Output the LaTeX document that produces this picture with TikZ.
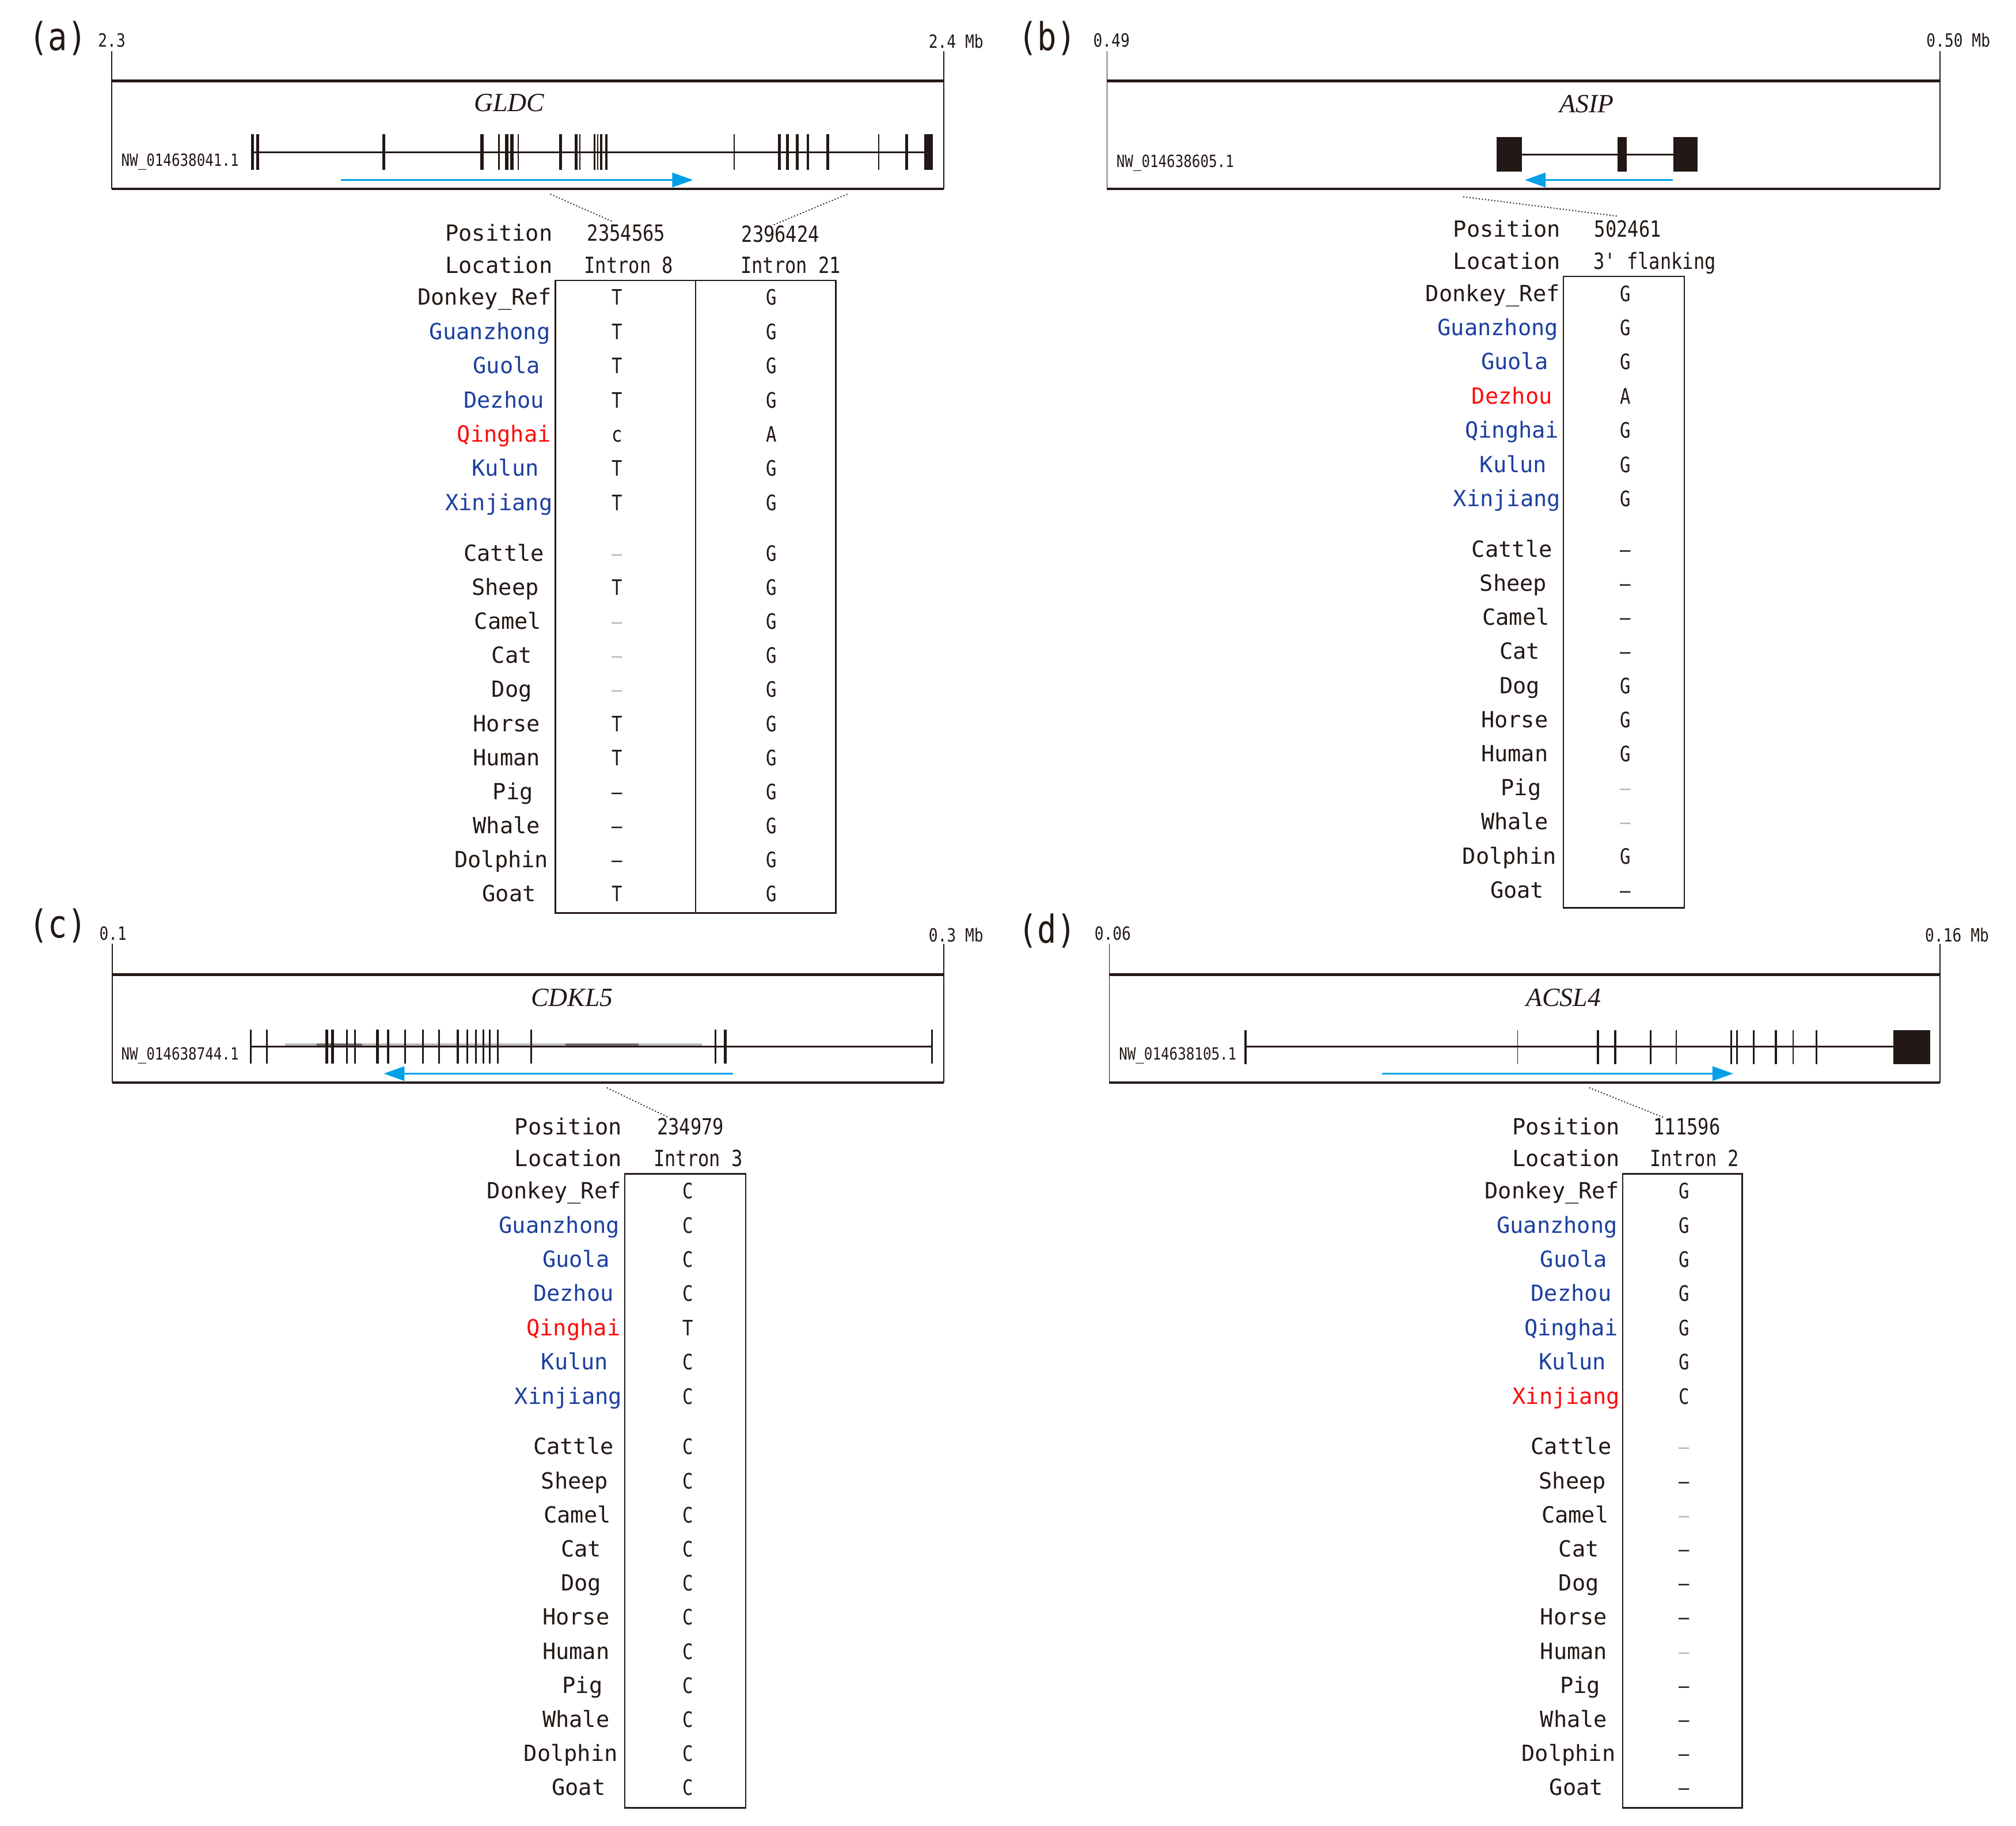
\documentclass[tikz,border=0pt]{standalone}
\usepackage{fontspec}
\setmainfont{DejaVu Sans Mono}
\newfontfamily\narrowfont[FakeStretch=0.83]{DejaVu Sans Mono}
\newfontfamily\genefont{Liberation Serif}
\usetikzlibrary{calc}
\usetikzlibrary{arrows.meta}
\definecolor{ink}{HTML}{231815}
\definecolor{breedblue}{HTML}{1C3F9F}
\definecolor{snpred}{HTML}{FF0A0A}
\definecolor{strandblue}{HTML}{00A0E9}
\tikzset{
  panel/.style={font=\narrowfont\fontsize{19}{22}\selectfont, text=ink, inner sep=0pt},
  tick/.style={font=\narrowfont\fontsize{9}{10}\selectfont, text=ink, inner sep=0pt, anchor=mid west},
  acc/.style={font=\narrowfont\fontsize{8.3}{9}\selectfont, text=ink, inner sep=0pt, anchor=mid west},
  gene/.style={font=\genefont\itshape\fontsize{13}{15}\selectfont, text=ink, inner sep=0pt},
  breed/.style={font=\fontsize{11}{13}\selectfont, inner sep=0pt, anchor=mid},
  head/.style={font=\fontsize{11}{13}\selectfont, text=ink, inner sep=0pt, anchor=mid east},
  posn/.style={font=\narrowfont\fontsize{11}{13}\selectfont, text=ink, inner sep=0pt, anchor=mid},
  base/.style={font=\narrowfont\fontsize{10.5}{12}\selectfont, text=ink, inner sep=0pt, anchor=mid},
  frameline/.style={draw=ink, line width=0.5pt},
  topline/.style={draw=ink, line width=1.4pt},
  boxfoot/.style={draw=ink, line width=1pt},
  intron/.style={draw=ink, line width=0.8pt},
  cell/.style={draw=ink, line width=0.7pt},
  snpline/.style={draw=ink, line width=0.55pt, densely dotted},
  strand/.style={draw=strandblue, line width=0.9pt, -{Triangle[length=3.6mm,width=2.5mm]}}
}
\newcommand{\dsh}{\textendash}
\newcommand{\gdsh}{{\color{gray!55}\textendash}}
% row height: seven donkey breeds, a gap, eleven other species
\newcommand{\rowy}[2]{\ifnum#1<8 \pgfmathsetmacro\ry{#2+15+26.6*(#1-1)}\else\pgfmathsetmacro\ry{#2+214+26.5*(#1-8)}\fi}
% #1 box left, #2 box top, #3 red row, #4 name prefix
\newcommand{\breedrows}[4]{%
  \foreach \nm/\dx [count=\i] in {Donkey\_Ref/-55,Guanzhong/-51,Guola/-38,Dezhou/-40,Qinghai/-40,Kulun/-39,Xinjiang/-44,Cattle/-40,Sheep/-39,Camel/-37,Cat/-34,Dog/-34,Horse/-38,Human/-38,Pig/-33,Whale/-38,Dolphin/-42,Goat/-36}{
    \rowy{\i}{#2}
    \def\cl{ink}
    \ifnum\i>1 \ifnum\i<8 \def\cl{breedblue}\fi\fi
    \ifnum\i=#3 \def\cl{snpred}\fi
    \node[breed, text=\cl] (#4\i) at (#1+\dx,\ry) {\nm};
  }}
% #1 x, #2 box top, #3 name prefix, #4 bases
\newcommand{\snpvalues}[4]{%
  \foreach \v [count=\i] in {#4}{\rowy{\i}{#2}\node[base] (#3\i) at (#1,\ry) {\v};}}

\begin{document}
\begin{tikzpicture}[x=0.22328mm, y=-0.22328mm]
\useasboundingbox (0,0) rectangle (1568,1420);

% ---------- (a) GLDC ----------
\node[panel] (a-tag) at (45,30) {(a)};
\node[tick] (a-from) at (76,32) {2.3};
\node[tick] (a-to) at (722,33) {2.4 Mb};
\draw[frameline] (87,40) -- (87,147);
\draw[frameline] (734,40) -- (734,147);
\draw[topline] (87,63) -- (734,63);
\draw[boxfoot] (87,147) -- (734,147);
\node[gene] (a-gene) at (396,80) {GLDC};
\node[acc] (a-acc) at (94,125) {NW\_014638041.1};
\draw[intron] (196.5,118.4) -- (722,118.4);
% exons
\foreach \x/\w in {196.5/1.4pt,200.5/1.4pt,298.5/1.4pt,375/1.7pt,388/0.9pt,394/1.7pt,398/1.7pt,403/0.6pt,436/1.7pt,448/1.5pt,451/0.6pt,462.5/0.7pt,465/0.7pt,467.5/1.2pt,471.5/1.2pt,571/0.5pt,606/1.4pt,612.5/1.4pt,620/1.4pt,628.5/1.1pt,644/1.4pt,683.5/0.5pt,705/1.4pt}
  \draw[ink, line width=\w] (\x,104.5) -- (\x,132);
\fill[ink] (719,104.5) rectangle (725.5,132);
\draw[strand] (265,140) -- (539,140);
% table
\node[head] (a-poslab) at (430,183) {Position};
\node[head] (a-loclab) at (430,208) {Location};
\node[posn] (a-pos1) at (487,183) {2354565};
\node[posn] (a-pos2) at (607,184) {2396424};
\node[posn] (a-loc1) at (489,208) {Intron 8};
\node[posn] (a-loc2) at (615,208) {Intron 21};
\coordinate (a-cut1) at (428,151);
\coordinate (a-cut2) at (659,151);
\draw[snpline] (a-cut1) -- ($(a-pos1.north)+(-11,-2)$);
\draw[snpline] (a-cut2) -- ($(a-pos2.north)+(-6,0)$);
\draw[cell] (432,218) rectangle (650,710);
\draw[cell] (541,218) -- (541,710);
\breedrows{432}{218}{5}{a-lab}
\snpvalues{480}{218}{a-s}{T,T,T,T,c,T,T,\gdsh,T,\gdsh,\gdsh,\gdsh,T,T,\dsh,\dsh,\dsh,T}
\snpvalues{600}{218}{a-t}{G,G,G,G,A,G,G,G,G,G,G,G,G,G,G,G,G,G}

% ---------- (b) ASIP ----------
\node[panel] (b-tag) at (814.5,30) {(b)};
\node[tick] (b-from) at (850,32) {0.49};
\node[tick] (b-to) at (1498,32) {0.50 Mb};
\draw[frameline] (861,40) -- (861,147);
\draw[frameline] (1509,40) -- (1509,147);
\draw[topline] (861,63) -- (1509,63);
\draw[boxfoot] (861,147) -- (1509,147);
\node[gene] (b-gene) at (1234,81) {ASIP};
\node[acc] (b-acc) at (868,126) {NW\_014638605.1};
\draw[intron] (1183.8,120.2) -- (1301.3,120.2);
% exons
\fill[ink] (1163.8,106.7) rectangle (1183.8,133.3);
\fill[ink] (1258,106.7) rectangle (1265,133.3);
\fill[ink] (1301.3,106.7) rectangle (1320.3,133.3);
\draw[strand] (1301,140) -- (1186,140);
% table
\node[head] (b-poslab) at (1214,180) {Position};
\node[head] (b-loclab) at (1214,205) {Location};
\node[posn] (b-pos1) at (1266,180) {502461};
\node[posn] (b-loc1) at (1287,205) {3' flanking};
\coordinate (b-cut1) at (1138,153);
\draw[snpline] (b-cut1) -- ($(b-pos1.north)+(-8,-3)$);
\draw[cell] (1216,215) rectangle (1310,706);
\breedrows{1216}{215}{4}{b-lab}
\snpvalues{1264}{215}{b-s}{G,G,G,A,G,G,G,\dsh,\dsh,\dsh,\dsh,G,G,G,\gdsh,\gdsh,G,\dsh}

% ---------- (c) CDKL5 ----------
\node[panel] (c-tag) at (45,720) {(c)};
\node[tick] (c-from) at (77,727) {0.1};
\node[tick] (c-to) at (722,728) {0.3 Mb};
\draw[frameline] (87.5,734) -- (87.5,842);
\draw[frameline] (734,734) -- (734,842);
\draw[topline] (87.5,758) -- (734,758);
\draw[boxfoot] (87.5,842) -- (734,842);
\node[gene] (c-gene) at (445,776) {CDKL5};
\node[acc] (c-acc) at (94,820) {NW\_014638744.1};
\draw[gray!55, line width=1.3pt] (221.5,812.6) -- (546,812.6);
\draw[gray!85!black, line width=1.3pt] (246.5,812.6) -- (281.5,812.6);
\draw[gray!85!black, line width=1.3pt] (440,812.6) -- (496.5,812.6);
\draw[intron] (195,814) -- (725,814);
% exons
\foreach \x/\w in {195/0.9pt,207.5/0.9pt,254/1.4pt,258.5/1.4pt,270/0.8pt,276/0.8pt,293.5/1.3pt,302/1.1pt,315/0.9pt,329/0.8pt,341.5/0.8pt,356/1.2pt,363.5/0.8pt,370/0.8pt,376/0.8pt,381/0.8pt,387/0.8pt,413/0.8pt,556.5/0.9pt,564/1.5pt,725/0.9pt}
  \draw[ink, line width=\w] (\x,801) -- (\x,827);
\draw[strand] (570,835) -- (298.5,835);
% table
\node[head] (c-poslab) at (484,878) {Position};
\node[head] (c-loclab) at (484,903) {Location};
\node[posn] (c-pos1) at (537,878) {234979};
\node[posn] (c-loc1) at (543,903) {Intron 3};
\coordinate (c-cut1) at (472,846);
\draw[snpline] (c-cut1) -- ($(c-pos1.north)+(-17,0)$);
\draw[cell] (486,913) rectangle (580,1406);
\breedrows{486}{913}{5}{c-lab}
\snpvalues{535}{913}{c-s}{C,C,C,C,T,C,C,C,C,C,C,C,C,C,C,C,C,C}

% ---------- (d) ACSL4 ----------
\node[panel] (d-tag) at (814.5,724) {(d)};
\node[tick] (d-from) at (851,727) {0.06};
\node[tick] (d-to) at (1497,728) {0.16 Mb};
\draw[frameline] (862.8,734) -- (862.8,842);
\draw[frameline] (1508.8,734) -- (1508.8,842);
\draw[topline] (862.8,758) -- (1508.8,758);
\draw[boxfoot] (862.8,842) -- (1508.8,842);
\node[gene] (d-gene) at (1216,776) {ACSL4};
\node[acc] (d-acc) at (870,820) {NW\_014638105.1};
\draw[intron] (968.8,814) -- (1472.8,814);
% exons
\foreach \x/\w in {968.8/1.2pt,1180.3/0.5pt,1242.8/0.9pt,1256.3/1pt,1283.8/1pt,1303.8/0.6pt,1346.5/1.1pt,1351/1.1pt,1363.8/0.9pt,1381.3/1.1pt,1394.8/0.6pt,1412.8/1pt}
  \draw[ink, line width=\w] (\x,801.4) -- (\x,827.8);
\fill[ink] (1472.8,801.4) rectangle (1501.3,827.8);
\draw[strand] (1075,835) -- (1348,835);
% table
\node[head] (d-poslab) at (1260,878) {Position};
\node[head] (d-loclab) at (1260,903) {Location};
\node[posn] (d-pos1) at (1312,878) {111596};
\node[posn] (d-loc1) at (1318,903) {Intron 2};
\coordinate (d-cut1) at (1236,846);
\draw[snpline] (d-cut1) -- ($(d-pos1.north)+(-18,0)$);
\draw[cell] (1262,913) rectangle (1355,1406);
\breedrows{1262}{913}{7}{d-lab}
\snpvalues{1310}{913}{d-s}{G,G,G,G,G,G,C,\gdsh,\dsh,\gdsh,\dsh,\dsh,\dsh,\gdsh,\dsh,\dsh,\dsh,\dsh}
\end{tikzpicture}
\end{document}
